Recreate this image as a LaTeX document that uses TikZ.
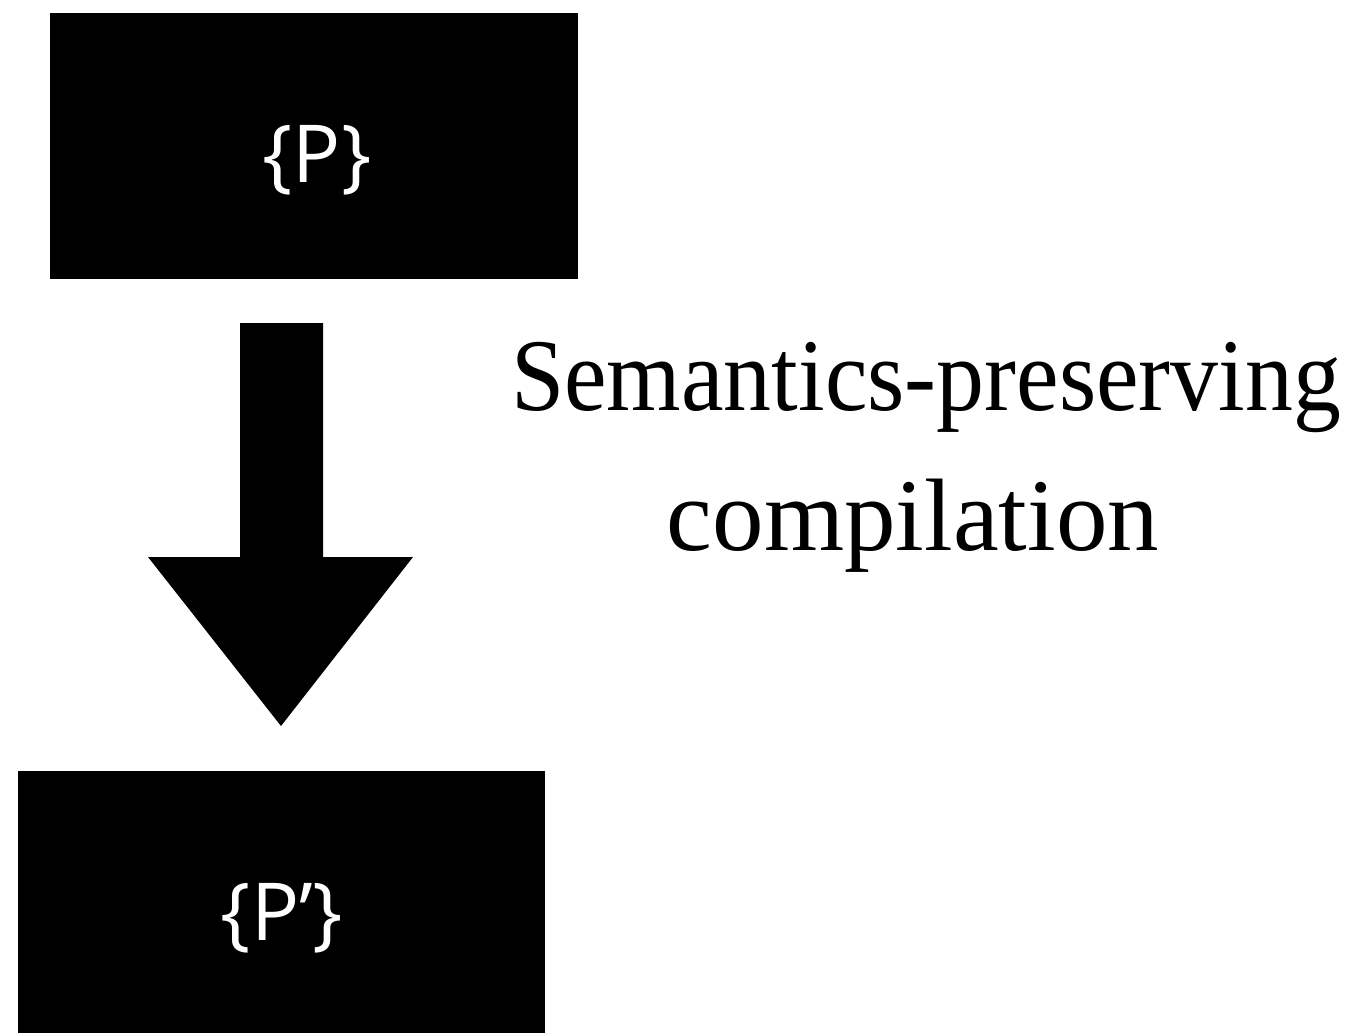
\documentclass[tikz,border=0pt]{standalone}
\usepackage{fontspec}
\setmainfont{Liberation Serif}
\newfontfamily\boxfont{Open Sans}
\newfontfamily\labelfont[FakeStretch=0.93]{Liberation Serif}
\newfontfamily\labelfontwide[FakeStretch=1.0]{Liberation Serif}
\begin{document}
\begin{tikzpicture}[x=1pt,y=-1pt,
  blackbox/.style={fill=black,draw=none,inner sep=0pt,anchor=north west},
  boxtext/.style={text=white,font=\boxfont\fontsize{80}{96}\selectfont,anchor=base,inner sep=0pt},
  labeltext/.style={text=black,font=\labelfont\fontsize{103}{124}\selectfont,anchor=base,inner sep=0pt}]
\useasboundingbox (0,0) rectangle (1358,1033);
\node[blackbox,minimum width=528pt,minimum height=266pt] (top) at (50,13) {};
\node[blackbox,minimum width=527pt,minimum height=262pt] (bottom) at (18,771) {};
\node[boxtext] (ptext) at (317,182) {\{P\}};
\node[boxtext] (pptext) at (282,940) {\{P’\}};
\fill[black] (240,323) -- (323,323) -- (323,557) -- (413,557) -- (281,726) -- (148,557) -- (240,557) -- cycle;
\node[labeltext] (line1) at (926,410) {Semantics-preserving};
\node[labeltext,font=\labelfontwide\fontsize{103}{124}\selectfont] (line2) at (913,550) {compilation};
\end{tikzpicture}
\end{document}
